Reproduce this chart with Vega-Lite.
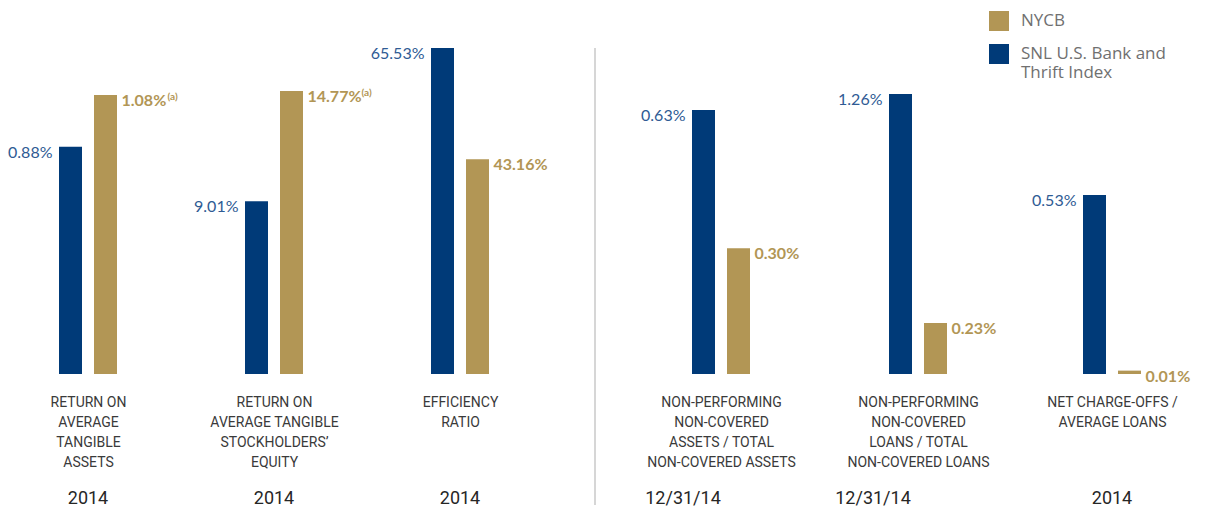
{
  "$schema": "https://vega.github.io/schema/vega-lite/v6.json",
  "background": "white",
  "padding": {"left": 0, "top": 11, "right": 0, "bottom": 0},
  "datasets": {
    "rows": [
      {"metric": "rota", "series": "SNL U.S. Bank and Thrift Index", "value": 0.0088, "note": ""},
      {"metric": "rota", "series": "NYCB", "value": 0.0108, "note": "(a)"},
      {"metric": "rote", "series": "SNL U.S. Bank and Thrift Index", "value": 0.0901, "note": ""},
      {"metric": "rote", "series": "NYCB", "value": 0.1477, "note": "(a)"},
      {"metric": "eff", "series": "SNL U.S. Bank and Thrift Index", "value": 0.6553, "note": ""},
      {"metric": "eff", "series": "NYCB", "value": 0.4316, "note": ""},
      {"metric": "npa", "series": "SNL U.S. Bank and Thrift Index", "value": 0.0063, "note": ""},
      {"metric": "npa", "series": "NYCB", "value": 0.0030, "note": ""},
      {"metric": "npl", "series": "SNL U.S. Bank and Thrift Index", "value": 0.0126, "note": ""},
      {"metric": "npl", "series": "NYCB", "value": 0.0023, "note": ""},
      {"metric": "nco", "series": "SNL U.S. Bank and Thrift Index", "value": 0.0053, "note": ""},
      {"metric": "nco", "series": "NYCB", "value": 0.0001, "note": ""}
    ]
  },
  "spacing": 0,
  "bounds": "flush",
  "resolve": {"scale": {"x": "independent", "xOffset": "independent", "y": "independent", "color": "shared"}},
  "hconcat": [
    {
      "width": 176, "height": 326,
      "data": {"name": "rows"},
      "transform": [{"filter": "datum.metric == 'rota'"}],
      "title": {"text": "2014", "orient": "bottom", "anchor": "middle", "frame": "group"},
      "encoding": {
        "x": {"field": "metric", "type": "nominal",
              "scale": {"paddingInner": 0, "paddingOuter": 0.1875, "align": 0.5, "round": false},
              "axis": {"title": ["RETURN ON", "AVERAGE", "TANGIBLE", "ASSETS"]}},
        "xOffset": {"field": "series", "type": "nominal", "sort": ["SNL U.S. Bank and Thrift Index", "NYCB"],
              "scale": {"paddingInner": 0.342857, "paddingOuter": 1, "align": 0.5, "round": false}},
        "y": {"field": "value", "type": "quantitative", "scale": {"domain": [0, 0.01262], "nice": false}, "axis": null}
      },
      "layer": [
        {"mark": {"type": "bar"}, "encoding": {"color": {"field": "series", "type": "nominal", "legend": {"labelExpr": "datum.label == 'NYCB' ? 'NYCB' : ['SNL U.S. Bank and', 'Thrift Index']"}}}},
        {"transform": [{"filter": "datum.series != 'NYCB'"}], "mark": {"type": "text", "align": "right", "dx": -18, "dy": 6, "baseline": "middle", "font": "Lato", "fontSize": 16, "color": "#2f5b94"}, "encoding": {"text": {"field": "value", "format": ".2%"}}},
        {"transform": [{"filter": "datum.series == 'NYCB'"}], "mark": {"type": "text", "align": "left", "dx": 16, "dy": 6, "baseline": "middle", "font": "Lato", "fontSize": 16, "fontWeight": "bold", "color": "#b29655"}, "encoding": {"text": {"field": "value", "format": ".2%"}}},
        {"transform": [{"filter": "datum.note != ''"}], "mark": {"type": "text", "align": "left", "dx": 62, "dy": 2, "baseline": "middle", "font": "Lato", "fontSize": 10, "fontWeight": "bold", "color": "#b29655"}, "encoding": {"text": {"field": "note"}}}
      ]
    },
    {
      "width": 196, "height": 326,
      "data": {"name": "rows"},
      "transform": [{"filter": "datum.metric == 'rote'"}],
      "title": {"text": "2014", "orient": "bottom", "anchor": "middle", "frame": "group"},
      "encoding": {
        "x": {"field": "metric", "type": "nominal",
              "scale": {"paddingInner": 0, "paddingOuter": 0.265625, "align": 0.5, "round": false},
              "axis": {"title": ["RETURN ON", "AVERAGE TANGIBLE", "STOCKHOLDERS’", "EQUITY"]}},
        "xOffset": {"field": "series", "type": "nominal", "sort": ["SNL U.S. Bank and Thrift Index", "NYCB"],
              "scale": {"paddingInner": 0.342857, "paddingOuter": 1, "align": 0.5, "round": false}},
        "y": {"field": "value", "type": "quantitative", "scale": {"domain": [0, 0.1701], "nice": false}, "axis": null}
      },
      "layer": [
        {"mark": {"type": "bar"}, "encoding": {"color": {"field": "series", "type": "nominal", "legend": {"labelExpr": "datum.label == 'NYCB' ? 'NYCB' : ['SNL U.S. Bank and', 'Thrift Index']"}}}},
        {"transform": [{"filter": "datum.series != 'NYCB'"}], "mark": {"type": "text", "align": "right", "dx": -18, "dy": 6, "baseline": "middle", "font": "Lato", "fontSize": 16, "color": "#2f5b94"}, "encoding": {"text": {"field": "value", "format": ".2%"}}},
        {"transform": [{"filter": "datum.series == 'NYCB'"}], "mark": {"type": "text", "align": "left", "dx": 16, "dy": 6, "baseline": "middle", "font": "Lato", "fontSize": 16, "fontWeight": "bold", "color": "#b29655"}, "encoding": {"text": {"field": "value", "format": ".2%"}}},
        {"transform": [{"filter": "datum.note != ''"}], "mark": {"type": "text", "align": "left", "dx": 70, "dy": 2, "baseline": "middle", "font": "Lato", "fontSize": 10, "fontWeight": "bold", "color": "#b29655"}, "encoding": {"text": {"field": "note"}}}
      ]
    },
    {
      "width": 176, "height": 326,
      "data": {"name": "rows"},
      "transform": [{"filter": "datum.metric == 'eff'"}],
      "title": {"text": "2014", "orient": "bottom", "anchor": "middle", "frame": "group"},
      "encoding": {
        "x": {"field": "metric", "type": "nominal",
              "scale": {"paddingInner": 0, "paddingOuter": 0.1875, "align": 0.5, "round": false},
              "axis": {"title": ["EFFICIENCY", "RATIO", " ", " "]}},
        "xOffset": {"field": "series", "type": "nominal", "sort": ["SNL U.S. Bank and Thrift Index", "NYCB"],
              "scale": {"paddingInner": 0.342857, "paddingOuter": 1, "align": 0.5, "round": false}},
        "y": {"field": "value", "type": "quantitative", "scale": {"domain": [0, 0.6553], "nice": false}, "axis": null}
      },
      "layer": [
        {"mark": {"type": "bar"}, "encoding": {"color": {"field": "series", "type": "nominal", "legend": {"labelExpr": "datum.label == 'NYCB' ? 'NYCB' : ['SNL U.S. Bank and', 'Thrift Index']"}}}},
        {"transform": [{"filter": "datum.series != 'NYCB'"}], "mark": {"type": "text", "align": "right", "dx": -18, "dy": 6, "baseline": "middle", "font": "Lato", "fontSize": 16, "color": "#2f5b94"}, "encoding": {"text": {"field": "value", "format": ".2%"}}},
        {"transform": [{"filter": "datum.series == 'NYCB'"}], "mark": {"type": "text", "align": "left", "dx": 16, "dy": 6, "baseline": "middle", "font": "Lato", "fontSize": 16, "fontWeight": "bold", "color": "#b29655"}, "encoding": {"text": {"field": "value", "format": ".2%"}}}
      ]
    },
    {
      "width": 94, "height": 457,
      "data": {"values": [{}]},
      "mark": {"type": "rule", "color": "#c8c8c8", "strokeWidth": 1.5},
      "encoding": {"x": {"datum": 0.5, "type": "quantitative", "scale": {"domain": [0, 1], "nice": false, "zero": false}, "axis": null}}
    },
    {
      "width": 158, "height": 326,
      "data": {"name": "rows"},
      "transform": [{"filter": "datum.metric == 'npa'"}],
      "title": {"text": "12/31/14", "orient": "bottom", "anchor": "middle", "frame": "group", "dx": -38},
      "encoding": {
        "x": {"field": "metric", "type": "nominal",
              "scale": {"paddingInner": 0, "paddingOuter": 0.1171875, "align": 0.5, "round": false},
              "axis": {"title": ["NON-PERFORMING", "NON-COVERED", "ASSETS / TOTAL", "NON-COVERED ASSETS"]}},
        "xOffset": {"field": "series", "type": "nominal", "sort": ["SNL U.S. Bank and Thrift Index", "NYCB"],
              "scale": {"paddingInner": 0.342857, "paddingOuter": 1, "align": 0.5, "round": false}},
        "y": {"field": "value", "type": "quantitative", "scale": {"domain": [0, 0.00778], "nice": false}, "axis": null}
      },
      "layer": [
        {"mark": {"type": "bar"}, "encoding": {"color": {"field": "series", "type": "nominal", "legend": {"labelExpr": "datum.label == 'NYCB' ? 'NYCB' : ['SNL U.S. Bank and', 'Thrift Index']"}}}},
        {"transform": [{"filter": "datum.series != 'NYCB'"}], "mark": {"type": "text", "align": "right", "dx": -18, "dy": 6, "baseline": "middle", "font": "Lato", "fontSize": 16, "color": "#2f5b94"}, "encoding": {"text": {"field": "value", "format": ".2%"}}},
        {"transform": [{"filter": "datum.series == 'NYCB'"}], "mark": {"type": "text", "align": "left", "dx": 16, "dy": 6, "baseline": "middle", "font": "Lato", "fontSize": 16, "fontWeight": "bold", "color": "#b29655"}, "encoding": {"text": {"field": "value", "format": ".2%"}}}
      ]
    },
    {
      "width": 236, "height": 326,
      "data": {"name": "rows"},
      "transform": [{"filter": "datum.metric == 'npl'"}],
      "title": {"text": "12/31/14", "orient": "bottom", "anchor": "middle", "frame": "group", "dx": -45},
      "encoding": {
        "x": {"field": "metric", "type": "nominal",
              "scale": {"paddingInner": 0, "paddingOuter": 0.421875, "align": 0.5, "round": false},
              "axis": {"title": ["NON-PERFORMING", "NON-COVERED", "LOANS / TOTAL", "NON-COVERED LOANS"]}},
        "xOffset": {"field": "series", "type": "nominal", "sort": ["SNL U.S. Bank and Thrift Index", "NYCB"],
              "scale": {"paddingInner": 0.342857, "paddingOuter": 1, "align": 0.5, "round": false}},
        "y": {"field": "value", "type": "quantitative", "scale": {"domain": [0, 0.01467], "nice": false}, "axis": null}
      },
      "layer": [
        {"mark": {"type": "bar"}, "encoding": {"color": {"field": "series", "type": "nominal", "legend": {"labelExpr": "datum.label == 'NYCB' ? 'NYCB' : ['SNL U.S. Bank and', 'Thrift Index']"}}}},
        {"transform": [{"filter": "datum.series != 'NYCB'"}], "mark": {"type": "text", "align": "right", "dx": -18, "dy": 6, "baseline": "middle", "font": "Lato", "fontSize": 16, "color": "#2f5b94"}, "encoding": {"text": {"field": "value", "format": ".2%"}}},
        {"transform": [{"filter": "datum.series == 'NYCB'"}], "mark": {"type": "text", "align": "left", "dx": 16, "dy": 6, "baseline": "middle", "font": "Lato", "fontSize": 16, "fontWeight": "bold", "color": "#b29655"}, "encoding": {"text": {"field": "value", "format": ".2%"}}}
      ]
    },
    {
      "width": 152, "height": 326,
      "data": {"name": "rows"},
      "transform": [{"filter": "datum.metric == 'nco'"}],
      "title": {"text": "2014", "orient": "bottom", "anchor": "middle", "frame": "group"},
      "encoding": {
        "x": {"field": "metric", "type": "nominal",
              "scale": {"paddingInner": 0, "paddingOuter": 0.09375, "align": 0.5, "round": false},
              "axis": {"title": ["NET CHARGE-OFFS /", "AVERAGE LOANS", " ", " "]}},
        "xOffset": {"field": "series", "type": "nominal", "sort": ["SNL U.S. Bank and Thrift Index", "NYCB"],
              "scale": {"paddingInner": 0.342857, "paddingOuter": 1, "align": 0.5, "round": false}},
        "y": {"field": "value", "type": "quantitative", "scale": {"domain": [0, 0.00965], "nice": false}, "axis": null}
      },
      "layer": [
        {"mark": {"type": "bar"}, "encoding": {"color": {"field": "series", "type": "nominal", "legend": {"labelExpr": "datum.label == 'NYCB' ? 'NYCB' : ['SNL U.S. Bank and', 'Thrift Index']"}}}},
        {"transform": [{"filter": "datum.series != 'NYCB'"}], "mark": {"type": "text", "align": "right", "dx": -18, "dy": 6, "baseline": "middle", "font": "Lato", "fontSize": 16, "color": "#2f5b94"}, "encoding": {"text": {"field": "value", "format": ".2%"}}},
        {"transform": [{"filter": "datum.series == 'NYCB'"}], "mark": {"type": "text", "align": "left", "dx": 16, "dy": 6, "baseline": "middle", "font": "Lato", "fontSize": 16, "fontWeight": "bold", "color": "#b29655"}, "encoding": {"text": {"field": "value", "format": ".2%"}}}
      ]
    }
  ],
  "config": {
    "view": {"stroke": null},
    "range": {"category": ["#b29655", "#003a78"]},
    "axisX": {
      "labels": false, "ticks": false, "domain": false, "grid": false,
      "titlePadding": 21, "titleFont": "Roboto", "titleFontSize": 14, "titleFontWeight": "normal",
      "titleColor": "#3a3a3a", "titleLineHeight": 20
    },
    "title": {"font": "Roboto", "fontSize": 18, "fontWeight": "normal", "color": "#262626", "offset": 21},
    "legend": {
      "orient": "none", "legendX": 989, "legendY": -37, "title": null,
      "symbolType": "square", "symbolSize": 400, "symbolStrokeWidth": 0, "symbolOpacity": 1,
      "labelFont": "Open Sans", "labelFontSize": 17, "labelColor": "#707070", "labelOffset": 12,
      "rowPadding": 13, "labelLimit": 300, "padding": 0
    }
  }
}
